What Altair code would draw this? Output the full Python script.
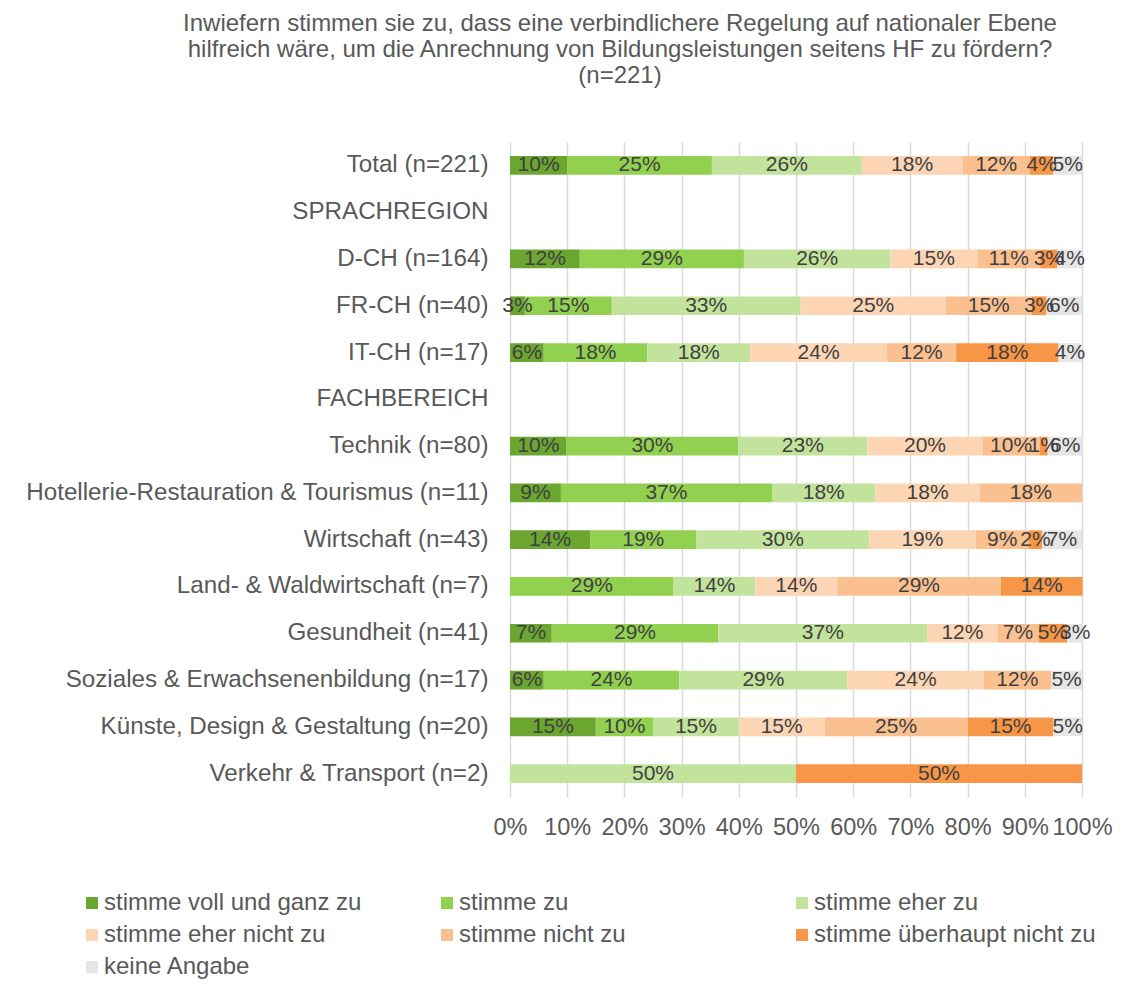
import altair as alt
import pandas as pd

rows = [
    "Total (n=221)",
    "D-CH (n=164)",
    "FR-CH (n=40)",
    "IT-CH (n=17)",
    "Technik (n=80)",
    "Hotellerie-Restauration & Tourismus (n=11)",
    "Wirtschaft (n=43)",
    "Land- & Waldwirtschaft (n=7)",
    "Gesundheit (n=41)",
    "Soziales & Erwachsenenbildung (n=17)",
    "Künste, Design & Gestaltung (n=20)",
    "Verkehr & Transport (n=2)",
]

y_order = [
    "Total (n=221)",
    "SPRACHREGION",
    "D-CH (n=164)",
    "FR-CH (n=40)",
    "IT-CH (n=17)",
    "FACHBEREICH",
    "Technik (n=80)",
    "Hotellerie-Restauration & Tourismus (n=11)",
    "Wirtschaft (n=43)",
    "Land- & Waldwirtschaft (n=7)",
    "Gesundheit (n=41)",
    "Soziales & Erwachsenenbildung (n=17)",
    "Künste, Design & Gestaltung (n=20)",
    "Verkehr & Transport (n=2)",
]

categories = [
    "stimme voll und ganz zu",
    "stimme zu",
    "stimme eher zu",
    "stimme eher nicht zu",
    "stimme nicht zu",
    "stimme überhaupt nicht zu",
    "keine Angabe",
]
colors = ["#6BA631", "#92D050", "#C2E39B", "#FCD5B5", "#FAC090", "#F79646", "#E6E6E6"]

voll_und_ganz = [10.0, 12.2, 2.6, 5.9, 9.9, 8.9, 14.0, 0, 7.3, 5.9, 15.0, 0]
zu = [25.3, 28.7, 15.2, 18.1, 30.0, 36.9, 18.6, 28.6, 29.1, 23.7, 10.0, 0]
eher_zu = [26.2, 25.6, 33.0, 18.0, 22.6, 18.1, 30.2, 14.3, 36.6, 29.4, 15.0, 50.0]
eher_nicht_zu = [17.6, 15.2, 25.4, 23.9, 20.1, 18.2, 18.6, 14.3, 12.2, 23.8, 15.0, 0]
nicht_zu = [11.8, 11.0, 15.0, 12.1, 10.0, 17.9, 9.3, 28.6, 7.2, 11.8, 25.0, 0]
ueberhaupt_nicht = [4.1, 3.0, 2.6, 17.9, 1.4, 0, 2.3, 14.3, 5.0, 0, 15.0, 50.0]
keine_angabe = [5.0, 4.3, 6.2, 4.0, 6.1, 0, 7.0, 0, 2.8, 5.4, 5.0, 0]

series = [voll_und_ganz, zu, eher_zu, eher_nicht_zu, nicht_zu, ueberhaupt_nicht, keine_angabe]

title_lines = [
    "Inwiefern stimmen sie zu, dass eine verbindlichere Regelung auf nationaler Ebene",
    "hilfreich wäre, um die Anrechnung von Bildungsleistungen seitens HF zu fördern?",
    "(n=221)",
]
x_ticks = [0, 10, 20, 30, 40, 50, 60, 70, 80, 90, 100]

records = []
for ci, (cat, vals) in enumerate(zip(categories, series)):
    for r, v in zip(rows, vals):
        if v > 0:
            records.append({"row": r, "cat": cat, "order": ci, "value": v})
df = pd.DataFrame(records)

FONT = "Liberation Sans"
GRAY = "#595959"

base = alt.Chart(df).transform_stack(
    stack="value", groupby=["row"], as_=["x0", "x1"], sort=[alt.SortField("order")]
).transform_calculate(
    mid="(datum.x0 + datum.x1) / 2",
    label="format(datum.value, '.0f') + '%'",
)

y_enc = alt.Y(
    "row:N",
    scale=alt.Scale(domain=y_order, paddingInner=0.6, paddingOuter=0.3),
    axis=alt.Axis(
        title=None, ticks=False, domain=False, labelFontSize=24.2, labelColor=GRAY,
        labelFont=FONT, labelPadding=22, labelLimit=600,
    ),
)

bars = base.mark_bar().encode(
    x=alt.X(
        "x0:Q",
        scale=alt.Scale(domain=[0, 100], nice=False),
        axis=alt.Axis(
            title=None, values=x_ticks, labelExpr="datum.value + '%'", ticks=False,
            domain=False, grid=True, gridColor="#D9D9D9", gridWidth=1.5,
            labelFontSize=23.5, labelColor=GRAY, labelFont=FONT, labelPadding=18,
            labelOverlap=False, labelFlush=False,
        ),
    ),
    x2="x1:Q",
    y=y_enc,
    color=alt.Color(
        "cat:N",
        scale=alt.Scale(domain=categories, range=colors),
        legend=alt.Legend(
            title=None, orient="none", legendX=-430, legendY=749, columns=3,
            direction="horizontal", gridAlign="all", columnPadding=49, rowPadding=8,
            symbolType="square", symbolSize=144, symbolStrokeWidth=0,
            labelFontSize=24, labelColor=GRAY, labelFont=FONT, labelOffset=0,
            padding=0, labelLimit=400,
        ),
    ),
    order=alt.Order("order:Q"),
)

text = base.mark_text(fontSize=21, color="#404040", font=FONT, baseline="middle").encode(
    x=alt.X("mid:Q"),
    y=alt.Y("row:N"),
    text="label:N",
)

chart = (
    alt.layer(bars, text)
    .properties(
        width=572,
        height=655,
        autosize=alt.AutoSizeParams(type="none"),
        padding={"left": 502, "top": 134, "right": 41, "bottom": 188},
        title=alt.TitleParams(
            text=title_lines, fontSize=24, color=GRAY, font=FONT, fontWeight="normal",
            anchor="middle", frame="group", dx=-176, offset=54, lineHeight=26,
        ),
    )
    .configure_view(stroke=None)
)

chart.save("out.html", embed_options={"renderer": "svg", "actions": False})
